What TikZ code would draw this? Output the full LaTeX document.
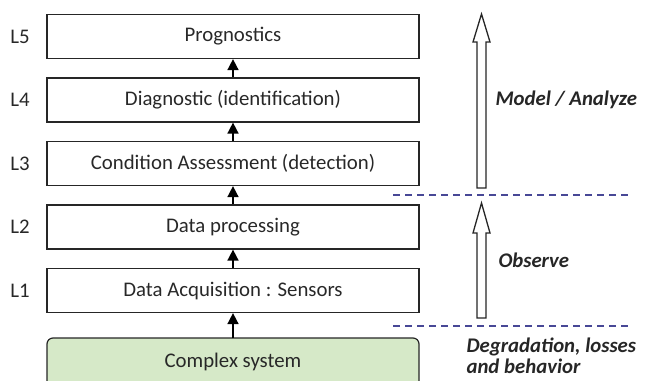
\documentclass[tikz,border=0pt]{standalone}
\usepackage{fontspec}
\setmainfont{Carlito}
\usetikzlibrary{arrows.meta}
\definecolor{boxgreen}{RGB}{214,233,200}
\definecolor{dashblue}{RGB}{72,72,150}
\definecolor{txtgray}{RGB}{40,40,40}
\begin{document}
\begin{tikzpicture}[x=1pt, y=-1pt,
        layer/.style={draw=black!85, line width=1.2pt, minimum width=372pt, minimum height=44pt,
            inner sep=0pt, font=\fontsize{20.8}{24}\selectfont, text=txtgray},
        level/.style={font=\fontsize{20.8}{24}\selectfont, text=txtgray},
        up/.style={-{Triangle[width=11pt, length=11pt]}, line width=1.6pt},
        hollow/.style={draw=black!85, line width=1.3pt, fill=white, line join=miter},
        sep/.style={draw=dashblue, line width=1.4pt, dash pattern=on 7pt off 5pt},
        side/.style={font=\fontsize{20.8}{24}\selectfont\bfseries\itshape, text=black!85, anchor=west}]
    \useasboundingbox (0, 0) rectangle (652, 380);

    % layers
    \node[layer] (prog) at (233, 36.5) {Prognostics};
    \node[layer] (diag) at (233, 100) {Diagnostic (identification)};
    \node[layer] (cond) at (233, 163.5) {Condition Assessment (detection)};
    \node[layer] (proc) at (233, 227) {Data processing};
    \node[layer] (acq) at (233, 290.5) {Data Acquisition : Sensors};
    \draw[draw=black!85, line width=1.2pt, fill=boxgreen, rounded corners=6pt]
        (47, 338) rectangle (419, 392);
    \node[level] (sys) at (233, 362) {Complex system};
    \coordinate (systop) at (233, 338);

    \node[level] (l5) at (20, 36.5) {L5};
    \node[level] (l4) at (20, 100) {L4};
    \node[level] (l3) at (20, 163.5) {L3};
    \node[level] (l2) at (20, 227) {L2};
    \node[level] (l1) at (20, 290.5) {L1};

    \draw[up] (systop) -- (acq.south);
    \draw[up] (acq) -- (proc);
    \draw[up] (proc) -- (cond);
    \draw[up] (cond) -- (diag);
    \draw[up] (diag) -- (prog);

    % separators
    \draw[sep] (393, 195) -- (632, 195);
    \draw[sep] (393, 326) -- (632, 326);

    % hollow arrows
    \draw[hollow] (477, 188) -- (477, 42) -- (473, 42) -- (481.5, 14) -- (490, 42)
        -- (486, 42) -- (486, 188) -- cycle;
    \draw[hollow] (477, 318) -- (477, 233) -- (473, 233) -- (481.5, 203) -- (490, 233)
        -- (486, 233) -- (486, 318) -- cycle;

    \node[side] (model) at (492, 100) {Model / Analyze};
    \node[side] (obs) at (495, 260) {Observe};
    \node[side, align=left, anchor=north west, font=\fontsize{20.8}{21}\selectfont\bfseries\itshape]
        (degr) at (463, 334) {Degradation, losses\\and behavior};
    %\draw[lightgray] (0, 0) grid[step=50] (652, 380);
\end{tikzpicture}
\end{document}
